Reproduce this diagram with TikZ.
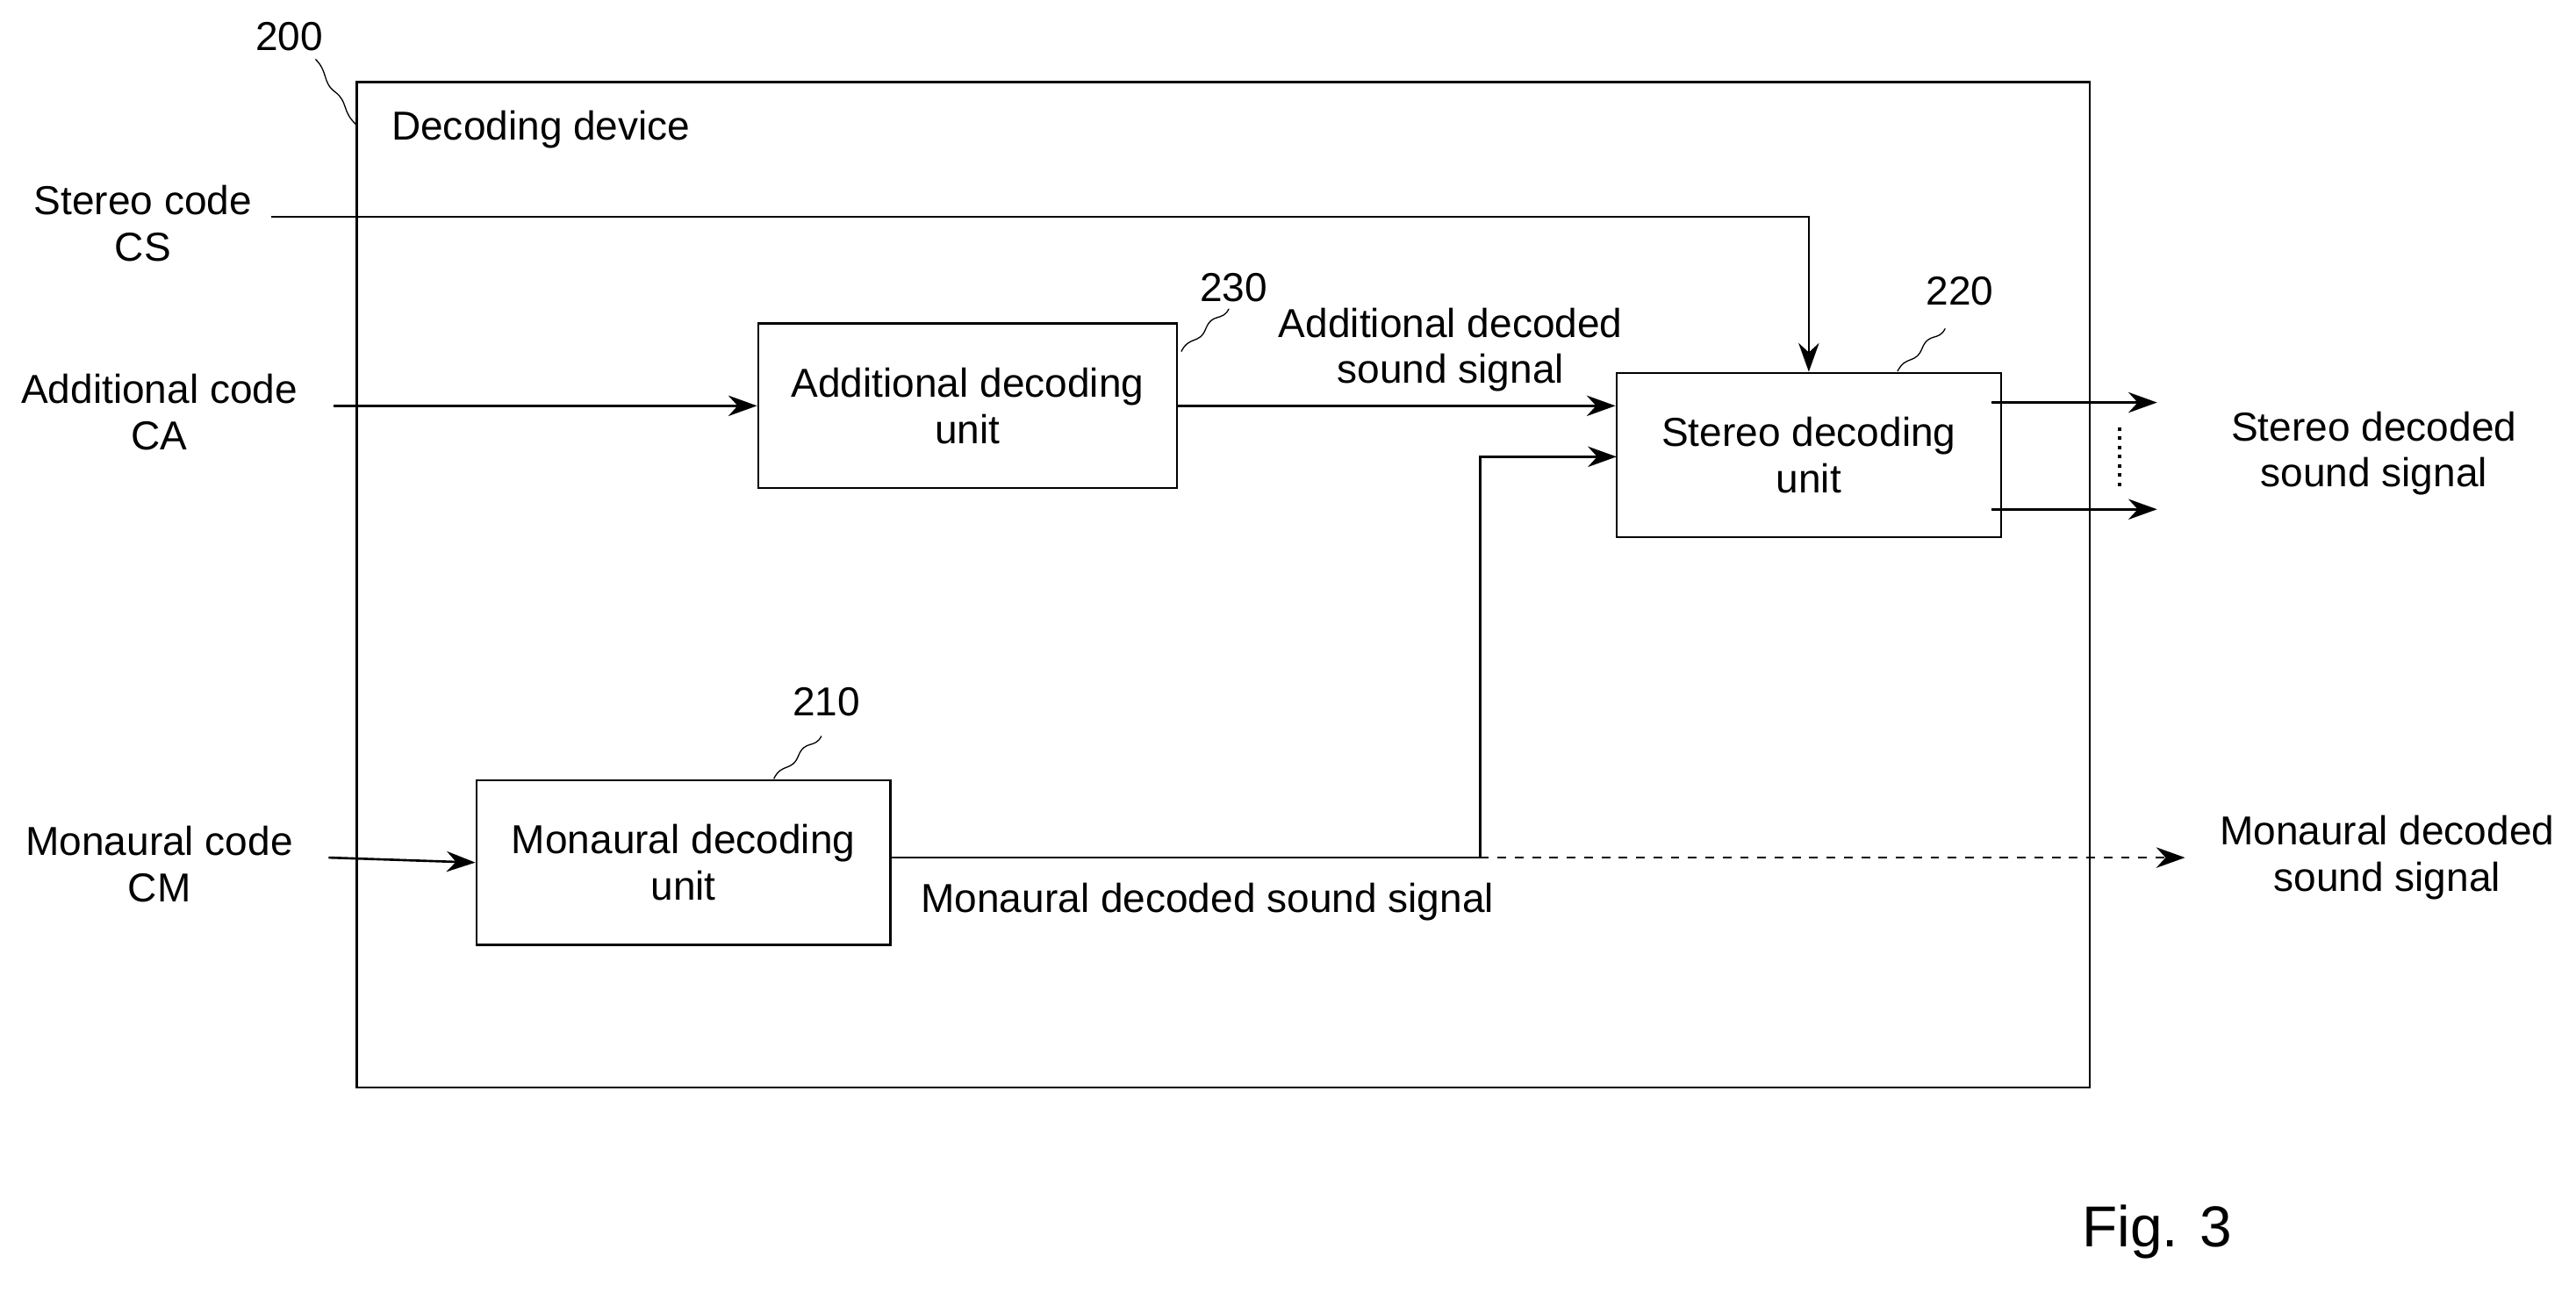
\documentclass[tikz,border=0pt]{standalone}
\usepackage{fontspec}
\setmainfont{Liberation Sans}
\usetikzlibrary{arrows.meta}
\tikzset{
  unit/.style={draw,thick,minimum width=5.1cm,minimum height=2.0cm,align=center,inner sep=0pt},
  lbl/.style={align=center,inner sep=0pt},
  sig/.style={thick,-{Stealth[length=3.5mm,width=2.5mm]}},
  squig/.style={thin}
}
\newcommand{\refsquig}[2]{% from #1 to #2
  \draw[squig] (#1) .. controls ++(0.25,0.1) and ++(-0.25,-0.1) .. ($(#1)!0.5!(#2)$) .. controls ++(0.25,0.1) and ++(-0.25,-0.1) .. (#2);}
\usetikzlibrary{calc}
\begin{document}
\begin{tikzpicture}[x=0.02cm,y=-0.02cm,font=\fontsize{14}{16}\selectfont]
\useasboundingbox (0,0) rectangle (1568,786);
% outer device
\draw[thick] (217,50) rectangle (1272,662);
\node[lbl,anchor=west] (dev) at (238,79) {Decoding device};
\node[lbl] (n200) at (176,22) {200};
\draw[squig] (192,36) .. controls (200,44) and (196,50) .. (204,56) .. controls (212,62) and (208,68) .. (217,76);
% units
\node[unit] (add) at (589,247) {Additional decoding\\unit};
\node[unit,minimum width=4.68cm] (ste) at (1101,277) {Stereo decoding\\unit};
\node[unit,minimum width=5.04cm] (mon) at (416,525) {Monaural decoding\\unit};
\node[lbl] (n230) at (751,175) {230};
\node[lbl] (n220) at (1193,177) {220};
\node[lbl] (n210) at (503,427) {210};
\draw[squig] (719,214) .. controls (724,204) and (730,210) .. (734,200) .. controls (738,190) and (744,196) .. (748,188);
\draw[squig] (1155,226) .. controls (1160,216) and (1166,222) .. (1170,212) .. controls (1174,202) and (1180,208) .. (1184,200);
\draw[squig] (471,474) .. controls (476,464) and (482,470) .. (486,460) .. controls (490,450) and (496,456) .. (500,448);
% inputs
\node[lbl] (cs) at (87,136) {Stereo code\\CS};
\node[lbl] (ca) at (97,251) {Additional code\\CA};
\node[lbl] (cm) at (97,526) {Monaural code\\CM};
\coordinate (csin) at (165,132);
\coordinate (cain) at (203,247);
\coordinate (cmin) at (200,522);
\draw[sig] (csin) -| (ste.north);
\draw[sig] (cain) -- (add.west);
\draw[sig] (cmin) -- (mon.west);
% internal signals
\draw[sig] (add.east) -- (ste.west |- add.east);
\node[lbl] (ads) at (883,213) {Additional decoded\\sound signal};
\coordinate (br) at (901,522);
\draw[thick] (mon.east |- br) -- (br);
\draw[sig] (br) |- (984,278);
\node[lbl] (mds) at (735,549) {Monaural decoded sound signal};
% outputs
\coordinate (o1) at (1313,245);
\coordinate (o2) at (1313,310);
\coordinate (o3) at (1330,522);
\draw[sig] (1212,245) -- (o1);
\draw[sig] (1212,310) -- (o2);
\draw[very thick,dotted] (1290,260) -- (1290,298);
\draw[sig,dashed] (br) -- (o3);
\node[lbl] (sds) at (1445,276) {Stereo decoded\\sound signal};
\node[lbl] (mdo) at (1453,522) {Monaural decoded\\sound signal};
\node[lbl,font=\fontsize{20}{24}\selectfont] (fig) at (1313,750) {Fig. 3};
\end{tikzpicture}
\end{document}
